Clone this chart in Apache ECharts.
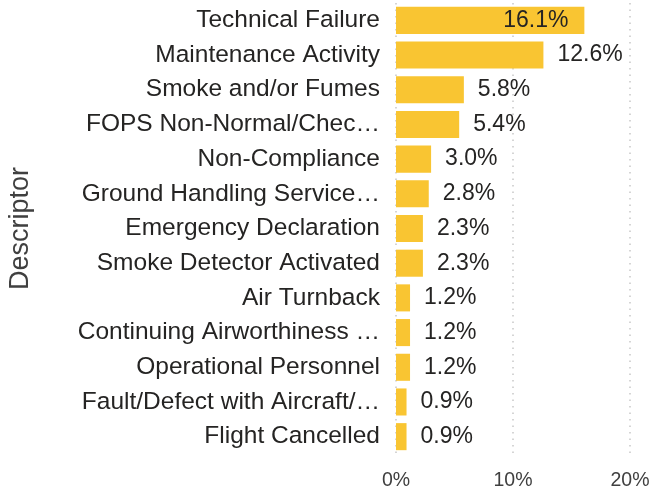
<!DOCTYPE html>
<html>
<head>
<meta charset="utf-8">
<script src="https://cdn.jsdelivr.net/npm/echarts@6/dist/echarts.min.js"></script>
<style>
html,body{margin:0;padding:0;background:#fff;}
#chart{width:653px;height:489px;}
</style>
</head>
<body>
<div id="chart"></div>
<script>
const categories = [
  "Technical Failure",
  "Maintenance Activity",
  "Smoke and/or Fumes",
  "FOPS Non-Normal/Chec\u2026",
  "Non-Compliance",
  "Ground Handling Service\u2026",
  "Emergency Declaration",
  "Smoke Detector Activated",
  "Air Turnback",
  "Continuing Airworthiness \u2026",
  "Operational Personnel",
  "Fault/Defect with Aircraft/\u2026",
  "Flight Cancelled"
];
const values = [16.1, 12.6, 5.8, 5.4, 3.0, 2.8, 2.3, 2.3, 1.2, 1.2, 1.2, 0.9, 0.9];
const xTicks = [0, 10, 20];

const FONT = "'Liberation Sans', Arial, sans-serif";
const chart = echarts.init(document.getElementById('chart'));
const seriesData = values.map((v, i) => {
  const d = { value: v };
  if (i === 0) {
    d.label = { position: 'insideRight', distance: 16 };
  }
  return d;
});
chart.setOption({
  animation: false,
  grid: { left: 396, right: 23, top: 3, bottom: 35, containLabel: false, outerBoundsMode: 'none' },
  xAxis: {
    type: 'value',
    min: xTicks[0],
    max: xTicks[xTicks.length - 1],
    interval: 10,
    axisLine: { show: false },
    axisTick: { show: false },
    axisLabel: {
      formatter: '{value}%',
      fontFamily: FONT,
      fontSize: 19.5,
      color: '#404040',
      margin: 17
    },
    splitLine: { show: true, lineStyle: { type: [1.5, 5], color: '#c8c8c8', width: 1.5 } }
  },
  yAxis: {
    type: 'category',
    data: categories,
    inverse: true,
    name: 'Descriptor',
    nameLocation: 'middle',
    nameGap: 362,
    nameTextStyle: { fontFamily: FONT, fontSize: 27, color: '#404040' },
    axisLine: { show: false },
    axisTick: { show: false },
    axisLabel: { fontFamily: FONT, fontSize: 24.5, color: '#252423', margin: 16 }
  },
  series: [{
    type: 'bar',
    data: seriesData,
    barCategoryGap: '22%',
    itemStyle: { color: '#F9C532' },
    label: {
      show: true,
      position: 'right',
      distance: 14,
      fontFamily: FONT,
      fontSize: 23,
      color: '#252423',
      formatter: p => p.value.toFixed(1) + '%'
    }
  }]
});
</script>
</body>
</html>
